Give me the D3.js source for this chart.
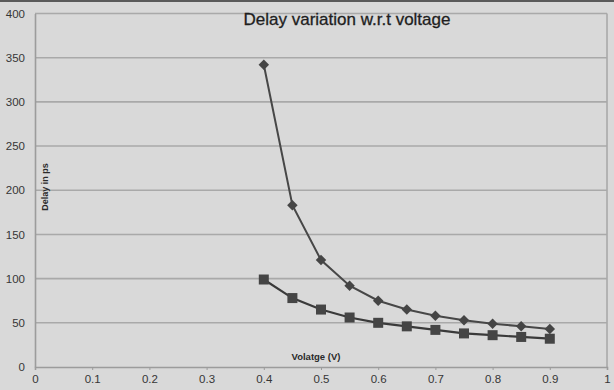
<!DOCTYPE html>
<html>
<head>
<meta charset="utf-8">
<script src="https://cdn.jsdelivr.net/npm/d3@7"></script>
<style>
  html, body { margin: 0; padding: 0; background: #d9d9d9; }
  svg { display: block; }
</style>
</head>
<body>
<svg id="chart" width="614" height="390"></svg>
<script>
const voltages = [0.4, 0.45, 0.5, 0.55, 0.6, 0.65, 0.7, 0.75, 0.8, 0.85, 0.9];
const delayDiamond = [342, 183, 121, 92, 75, 65, 58, 53, 49, 46, 43];
const delaySquare = [99, 78, 65, 56, 50, 46, 42, 38, 36, 34, 32];
const xTicks = [0, 0.1, 0.2, 0.3, 0.4, 0.5, 0.6, 0.7, 0.8, 0.9, 1];
const yTicks = [0, 50, 100, 150, 200, 250, 300, 350, 400];
const title = "Delay variation w.r.t voltage";
const xTitle = "Volatge (V)";
const yTitle = "Delay in ps";

const svg = d3.select("#chart");
const W = 614, H = 390;
const m = { left: 35, right: 7, top: 13.5, bottom: 23 };
const FONT = "'Liberation Sans', Arial, sans-serif";

svg.append("rect").attr("width", W).attr("height", H).attr("fill", "#d9d9d9");
svg.append("rect").attr("x", 0).attr("y", 0).attr("width", W).attr("height", 2).attr("fill", "#5a5a5a");

const x = d3.scaleLinear().domain([0, 1]).range([m.left, W - m.right]);
const y = d3.scaleLinear().domain([0, 400]).range([H - m.bottom, m.top]);

// gridlines
svg.append("g").selectAll("line").data(yTicks.filter(d => d > 0)).join("line")
  .attr("x1", x(0)).attr("x2", x(1))
  .attr("y1", d => y(d)).attr("y2", d => y(d))
  .attr("stroke", "#a9a9a9").attr("stroke-width", 1.6);

// right border
svg.append("line").attr("x1", x(1)).attr("x2", x(1)).attr("y1", y(400)).attr("y2", y(0))
  .attr("stroke", "#a9a9a9").attr("stroke-width", 1.6);

// axes
const xAxis = d3.axisBottom(x).tickValues(xTicks).tickSize(3).tickPadding(5)
  .tickFormat(d => d3.format("")(d));
const gx = svg.append("g").attr("transform", `translate(0,${y(0)})`).call(xAxis);
const yAxis = d3.axisLeft(y).tickValues(yTicks).tickSize(0).tickPadding(10);
const gy = svg.append("g").attr("transform", `translate(${x(0)},0)`).call(yAxis);

[gx, gy].forEach(g => {
  g.select(".domain").attr("stroke", "#9c9c9c").attr("stroke-width", 1.6);
  g.selectAll(".tick line").attr("stroke", "#9c9c9c");
  g.selectAll("text").attr("fill", "#363636")
    .style("font-family", FONT).style("font-size", "11.5px");
});

// lines
const line = d3.line().x(d => x(d[0])).y(d => y(d[1]));
const s1 = voltages.map((v, i) => [v, delayDiamond[i]]);
const s2 = voltages.map((v, i) => [v, delaySquare[i]]);

svg.append("path").datum(s1).attr("d", line).attr("fill", "none")
  .attr("stroke", "#474747").attr("stroke-width", 2);
svg.append("path").datum(s2).attr("d", line).attr("fill", "none")
  .attr("stroke", "#3a3a3a").attr("stroke-width", 2.2);

svg.append("g").selectAll("path").data(s1).join("path")
  .attr("d", d3.symbol(d3.symbolDiamond2, 70))
  .attr("transform", d => `translate(${x(d[0])},${y(d[1])})`)
  .attr("fill", "#454545");
svg.append("g").selectAll("rect").data(s2).join("rect")
  .attr("x", d => x(d[0]) - 5).attr("y", d => y(d[1]) - 5)
  .attr("width", 10).attr("height", 10)
  .attr("fill", "#454545");

// titles
svg.append("text").attr("x", 347).attr("y", 25).attr("text-anchor", "middle")
  .style("font-family", FONT).style("font-size", "17px")
  .attr("fill", "#1e1e1e").attr("stroke", "#1e1e1e").attr("stroke-width", 0.3)
  .text(title);
svg.append("text").attr("x", 316).attr("y", 360).attr("text-anchor", "middle")
  .style("font-family", FONT).style("font-size", "9.5px")
  .style("font-weight", "bold").attr("fill", "#2a2a2a").text(xTitle);
svg.append("text").attr("transform", "translate(48,187) rotate(-90)").attr("text-anchor", "middle")
  .style("font-family", FONT).style("font-size", "9px")
  .style("font-weight", "bold").attr("fill", "#2a2a2a").text(yTitle);
</script>
</body>
</html>
